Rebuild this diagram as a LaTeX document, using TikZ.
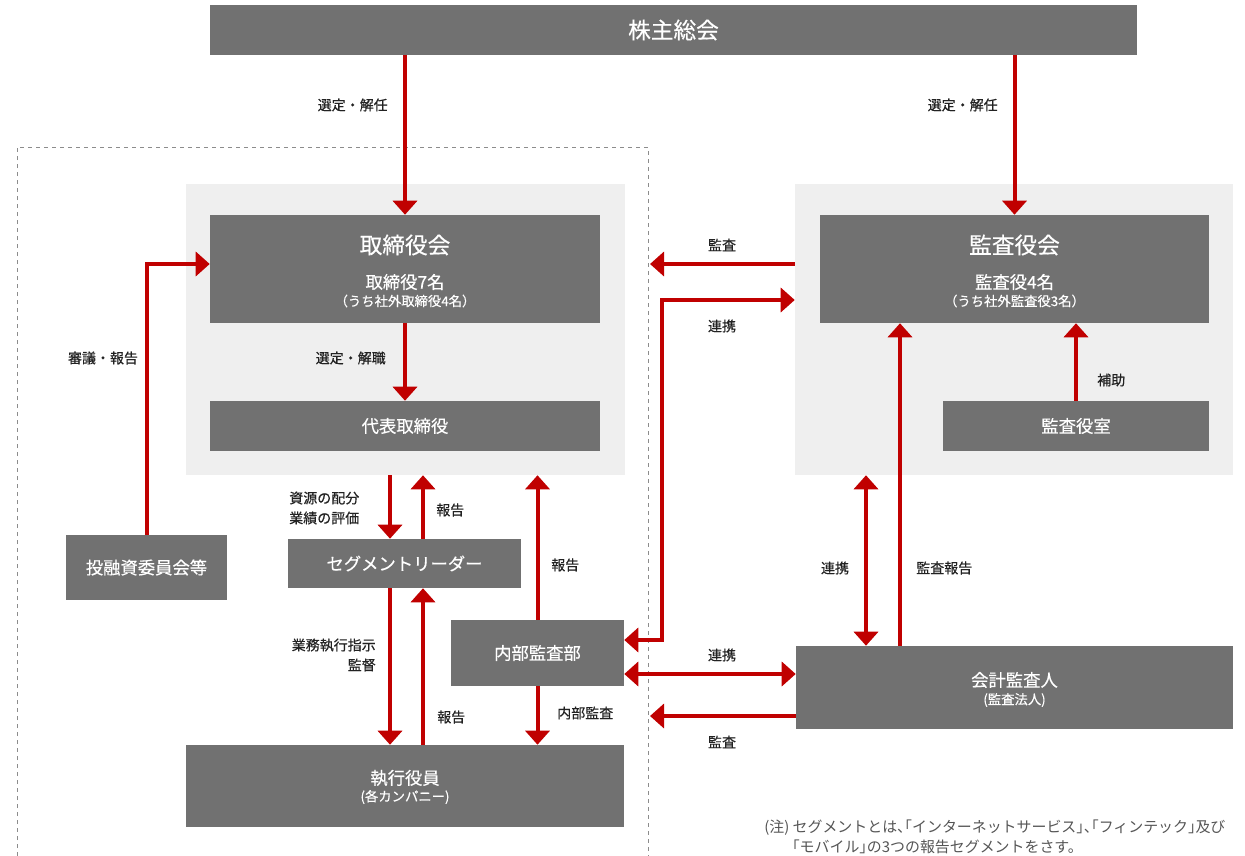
\documentclass[tikz,border=0pt]{standalone}
\usepackage{fontspec}
\setmainfont{Noto Sans CJK JP}[FakeBold=0.4]
\newfontfamily\notefont{Noto Sans CJK JP}[RawFeature=+halt]
\newfontfamily\lblfont{Noto Sans CJK JP}[FakeBold=0.5]
\usetikzlibrary{arrows.meta,calc}
\definecolor{rd}{RGB}{192,0,0}
\definecolor{bx}{RGB}{113,113,113}
\definecolor{pn}{RGB}{239,239,239}
\definecolor{lb}{RGB}{34,34,34}
\definecolor{nt}{RGB}{85,85,85}
\definecolor{dsh}{RGB}{140,140,140}
\begin{document}
\begin{tikzpicture}[x=0.75pt,y=-0.75pt,
  box/.style={fill=bx,draw=none,inner sep=0pt},
  panel/.style={fill=pn,draw=none,inner sep=0pt},
  tbig/.style={text=white,inner sep=0pt,font=\fontsize{17pt}{20pt}\selectfont},
  tmid/.style={text=white,inner sep=0pt,font=\fontsize{13pt}{15pt}\selectfont},
  tsml/.style={text=white,inner sep=0pt,font=\fontsize{10pt}{12pt}\selectfont},
  lbl/.style={text=lb,inner sep=0pt,font=\lblfont\fontsize{10.5pt}{13pt}\selectfont},
  note/.style={text=nt,inner sep=0pt,font=\notefont\fontsize{11.2pt}{13pt}\selectfont},
  tip/.tip={Triangle[width=18pt,length=10.5pt]},
  arr/.style={draw=rd,line width=3pt,-tip},
  darr/.style={draw=rd,line width=3pt,tip-tip},
  dashline/.style={draw=dsh,line width=0.75pt,dash pattern=on 3pt off 3pt},
]
\useasboundingbox (0,0) rectangle (1245,856);

% dashed frame
\coordinate (dBL) at (17,856);
\coordinate (dTL) at (17,147);
\coordinate (dTR) at (648,147);
\coordinate (dBR) at (648,856);
\draw[dashline] (dBL) -- (dTL) -- (dTR) -- (dBR);

% panels
\node[panel,minimum width=329.25pt,minimum height=218.25pt] (panelL) at (405.5,329.5) {};
\node[panel,minimum width=328.5pt,minimum height=218.25pt] (panelR) at (1014,329.5) {};

% boxes
\node[box,minimum width=695.25pt,minimum height=37.5pt] (soukai) at (673.5,30) {};
\node[tbig] (soukaiT) at (soukai.center) {株主総会};

\node[box,minimum width=292.5pt,minimum height=81pt] (tori) at (405,269) {};
\node[tbig] (toriT1) at (405,245) {取締役会};
\node[tmid] (toriT2) at (405,282) {取締役7名};
\node[tsml] (toriT3) at (405,301) {（うち社外取締役4名）};

\node[box,minimum width=292.5pt,minimum height=37.5pt] (daihyo) at (405,426) {};
\node[tmid] (daihyoT) at (daihyo.center) {代表取締役};

\node[box,minimum width=291.75pt,minimum height=81pt] (kansa) at (1014.5,269) {};
\node[tbig] (kansaT1) at (1014.5,245) {監査役会};
\node[tmid] (kansaT2) at (1014.5,282) {監査役4名};
\node[tsml] (kansaT3) at (1014.5,301) {（うち社外監査役3名）};

\node[box,minimum width=199.5pt,minimum height=37.5pt] (shitsu) at (1076,426) {};
\node[tmid] (shitsuT) at (shitsu.center) {監査役室};

\node[box,minimum width=120.75pt,minimum height=48.75pt] (touyushi) at (146.5,567.5) {};
\node[tmid] (touyushiT) at (touyushi.center) {投融資委員会等};

\node[box,minimum width=174.75pt,minimum height=36.75pt] (segment) at (404.5,563.5) {};
\node[tmid] (segmentT) at (segment.center) {セグメントリーダー};

\node[box,minimum width=129.75pt,minimum height=49.5pt] (naibu) at (537.5,653) {};
\node[tmid] (naibuT) at (naibu.center) {内部監査部};

\node[box,minimum width=328.5pt,minimum height=61.5pt] (shikkou) at (405,786) {};
\node[tmid] (shikkouT1) at (405,778) {執行役員};
\node[tsml] (shikkouT2) at (405,797) {(各カンパニー)};

\node[box,minimum width=327.75pt,minimum height=62.25pt] (kaikei) at (1014.5,687.5) {};
\node[tmid] (kaikeiT1) at (1014.5,680) {会計監査人};
\node[tsml] (kaikeiT2) at (1014.5,700) {(監査法人)};

% helper coordinates
\coordinate (ya) at (0,264);
\coordinate (b1) at (662,640);
\coordinate (b2) at (662,300);
\coordinate (xa) at (390,0);
\coordinate (xb) at (423,0);
\coordinate (yb) at (0,674);
\coordinate (yc) at (0,716);
\coordinate (xc) at (866,0);
\coordinate (xd) at (900,0);

% connectors
\draw[arr] (soukai.south -| tori.north) -- (tori.north);
\draw[arr] (soukai.south -| kansa.north) -- (kansa.north);
\draw[arr] (tori.south) -- (daihyo.north);
\draw[arr] (shitsu.north) -- (shitsu.north |- kansa.south);
\draw[arr] (touyushi.north) |- (tori.west |- ya);
\draw[arr] (panelR.west |- ya) -- ([xshift=1.5pt]dTR |- ya);
\draw[darr] (naibu.east |- b1) -- (b1) -- (b2) -- (panelR.west |- b2);
\draw[arr] (panelL.south -| xa) -- (segment.north -| xa);
\draw[arr] (segment.north -| xb) -- (panelL.south -| xb);
\draw[arr] (segment.south -| xa) -- (shikkou.north -| xa);
\draw[arr] (shikkou.north -| xb) -- (segment.south -| xb);
\draw[arr] (naibu.north) -- (naibu.north |- panelL.south);
\draw[arr] (naibu.south) -- (naibu.south |- shikkou.north);
\draw[darr] (naibu.east |- yb) -- (kaikei.west |- yb);
\draw[arr] (kaikei.west |- yc) -- ([xshift=1.5pt]dTR |- yc);
\draw[darr] (panelR.south -| xc) -- (kaikei.north -| xc);
\draw[arr] (kaikei.north -| xd) -- (kansa.south -| xd);

% labels
\node[lbl,anchor=east] (l1) at (388,105) {選定・解任};
\node[lbl,anchor=east] (l2) at (998,105) {選定・解任};
\node[lbl,anchor=east] (l3) at (386,358) {選定・解職};
\node[lbl] (l4) at (103,358) {審議・報告};
\node[lbl] (l5) at (722,245) {監査};
\node[lbl] (l6) at (722,326) {連携};
\node[lbl,anchor=west] (l7) at (1097,380) {補助};
\node[lbl,anchor=west,align=left] (l8) at (289,508) {資源の配分\\[2pt]業績の評価};
\node[lbl,anchor=west] (l9) at (436,510) {報告};
\node[lbl,anchor=west] (l10) at (551,565) {報告};
\node[lbl,anchor=east,align=right] (l11) at (376,655) {業務執行指示\\[2pt]監督};
\node[lbl,anchor=west] (l12) at (437,717) {報告};
\node[lbl,anchor=west] (l13) at (557,713) {内部監査};
\node[lbl] (l14) at (722,655) {連携};
\node[lbl] (l15) at (722,742) {監査};
\node[lbl] (l16) at (835,568) {連携};
\node[lbl,anchor=west] (l17) at (916,568) {監査報告};

% note
\node[note,anchor=west] (n1) at (764,828) {(注) セグメントとは、「インターネットサービス」、「フィンテック」及び};
\node[note,anchor=west] (n2) at (792,847) {「モバイル」の3つの報告セグメントをさす。};
\end{tikzpicture}
\end{document}
